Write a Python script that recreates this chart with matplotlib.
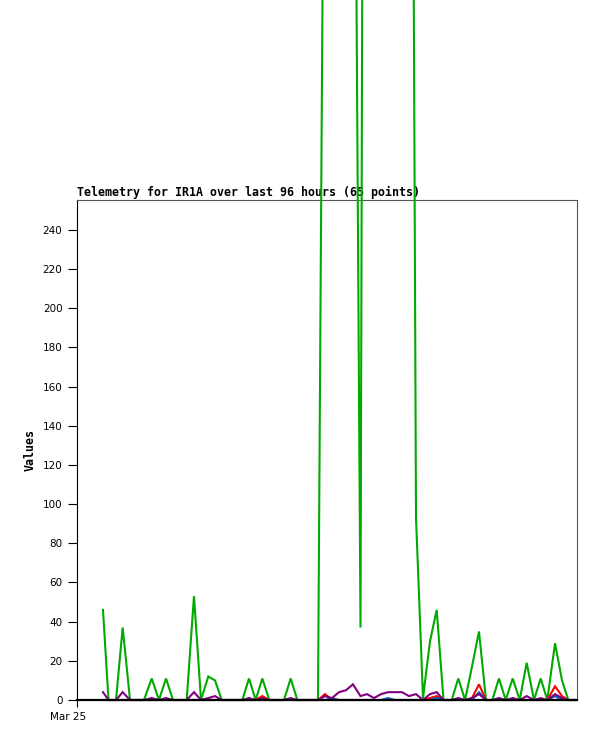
import matplotlib
matplotlib.use("Agg")
import matplotlib.pyplot as plt
import matplotlib.transforms as mtransforms

# time in hours since start of the 96-hour window
hours = [4.99, 6.05, 7.49, 8.77, 10.18, 11.52, 12.86, 14.34, 15.74, 17.09,
         18.43, 19.78, 21.06, 22.46, 23.81, 25.21, 26.50, 27.78, 29.09, 30.43,
         31.74, 33.02, 34.31, 35.58, 36.92, 38.40, 39.74, 41.03, 42.30, 43.58,
         44.93, 46.27, 47.62, 48.96, 50.30, 51.65, 52.99, 54.43, 55.68, 57.02,
         58.37, 59.71, 61.06, 62.40, 63.74, 65.09, 66.43, 67.78, 69.06, 70.37,
         71.94, 73.21, 74.50, 75.84, 77.18, 78.53, 79.74, 81.02, 82.31, 83.65,
         85.00, 86.34, 87.74, 89.03, 90.30, 91.78, 93.12, 94.33, 95.62]

green = [46, 0, 0, 37, 0, 0, 0, 11, 0, 11,
         0, 0, 0, 53, 0, 12, 10, 0, 0, 0,
         0, 11, 0, 11, 0, 0, 0, 11, 0, 0,
         0, 0, 560, 950, 1000, 900, 640, 37, 1260, 1100,
         1000, 1000, 1000, 1000, 930, 93, 1, 30, 46, 0,
         0, 11, 0, 17, 35, 0, 0, 11, 0, 11,
         0, 19, 0, 11, 0, 29, 10, 0, 0]

red = [0, 0, 0, 0, 0, 0, 0, 0, 0, 0,
       0, 0, 0, 0, 0, 0, 0, 0, 0, 0,
       0, 0, 0, 2, 0, 0, 0, 0, 0, 0,
       0, 0, 3, 0, 0, 0, 0, 0, 0, 0,
       0, 0, 0, 0, 0, 0, 0, 1, 2, 0,
       0, 0, 0, 1, 8, 0, 0, 0, 0, 0,
       0, 0, 0, 0, 0, 7, 2, 0, 0]

blue = [0, 0, 0, 0, 0, 0, 0, 0, 0, 0,
        0, 0, 0, 0, 0, 0, 0, 0, 0, 0,
        0, 0, 0, 0, 0, 0, 0, 0, 0, 0,
        0, 0, 0, 1, 0, 0, 0, 0, 0, 0,
        0, 1, 0, 0, 0, 0, 0, 0, 1, 0,
        0, 0, 0, 0, 4, 0, 0, 0, 0, 0,
        0, 0, 0, 0, 0, 2, 0, 0, 0]

purple = [4, 0, 0, 4, 0, 0, 0, 1, 0, 1,
          0, 0, 0, 4, 0, 1, 2, 0, 0, 0,
          0, 1, 0, 1, 0, 0, 0, 1, 0, 0,
          0, 0, 2, 1, 4, 5, 8, 2, 3, 1,
          3, 4, 4, 4, 2, 3, 0, 3, 4, 0,
          0, 1, 0, 1, 3, 0, 0, 1, 0, 1,
          0, 2, 0, 1, 0, 3, 1, 0, 0]

yticks = list(range(0, 241, 20))
xtick_pos = [0]
xtick_labels = ["Mar 25"]
title = "Telemetry for IR1A over last 96 hours (65 points)"

W, H = 597, 741
fig = plt.figure(figsize=(W / 100, H / 100), dpi=100)
ax = fig.add_axes([77 / W, 1 - 700 / H, 500 / W, 500 / H])

series = [(green, "#00aa00"), (red, "#ff0000"), (blue, "#0060c0"), (purple, "#800080")]
for vals, col in series:
    ax.plot(hours, vals, color=col, lw=1.5, zorder=5, clip_on=False,
            solid_joinstyle="miter")

ax.set_xlim(0, 96)
ax.set_ylim(0, 255.3)
ax.set_yticks(yticks)
ax.set_yticklabels([str(v) for v in yticks])
ax.set_xticks(xtick_pos)
ax.set_xticklabels(xtick_labels)

ax.tick_params(axis="y", direction="out", length=6.5, width=0.8, pad=4,
               labelsize=7.5, colors="black")
ax.tick_params(axis="x", direction="out", length=5, width=0.8, pad=3.5,
               labelsize=7.5, colors="black")
offset = mtransforms.ScaledTranslation(-9 / 100, 0, fig.dpi_scale_trans)
for lbl in ax.get_xticklabels():
    lbl.set_transform(lbl.get_transform() + offset)

ax.spines["left"].set_color("black")
ax.spines["left"].set_linewidth(0.8)
ax.spines["bottom"].set_color("black")
ax.spines["bottom"].set_linewidth(1.6)
ax.spines["bottom"].set_zorder(6)
for s in ("top", "right"):
    ax.spines[s].set_color("#555555")
    ax.spines[s].set_linewidth(0.8)

ax.set_title(title, loc="left", fontfamily="DejaVu Sans Mono",
             fontweight="bold", fontsize=8.4, pad=3)
ax.set_ylabel("Values", fontfamily="DejaVu Sans Mono", fontweight="bold",
              fontsize=8.4)
ax.yaxis.set_label_coords(-0.08, 0.5)

fig.savefig("out.png", dpi=100)
